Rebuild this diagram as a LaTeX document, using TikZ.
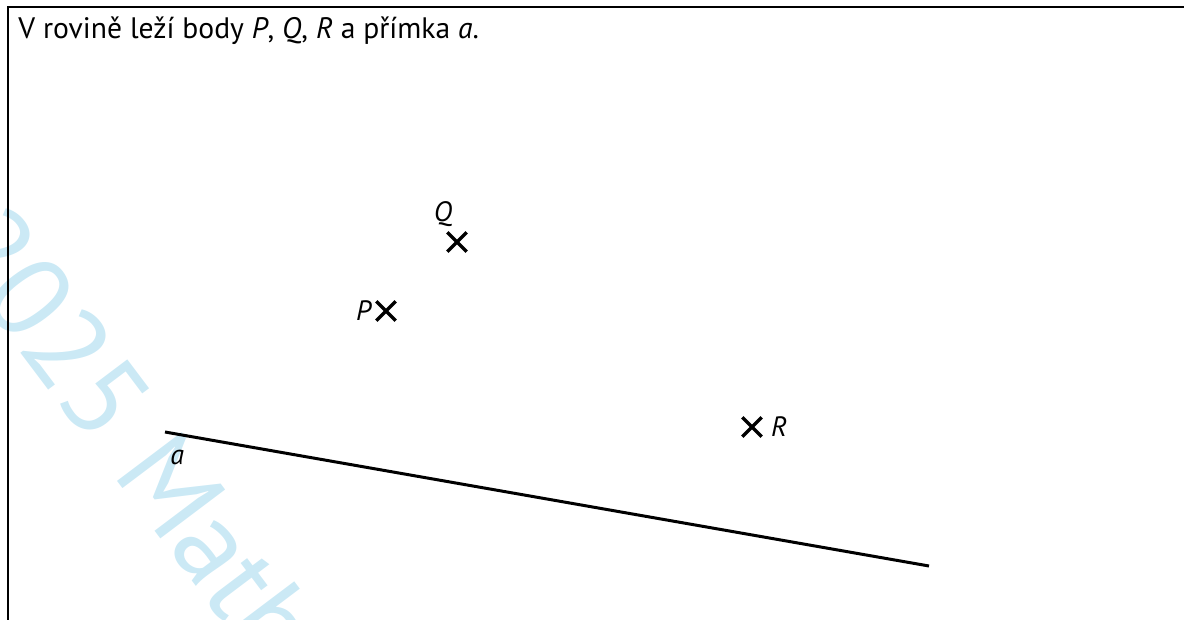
\documentclass[tikz,border=0pt]{standalone}
\usepackage{fontspec}
\setmainfont{PT Sans}
\usetikzlibrary{positioning, shapes.misc}
\definecolor{wmblue}{RGB}{203,233,245}

\begin{document}
\begin{tikzpicture}[x=0.5pt, y=-0.5pt,
  every node/.style={inner sep=0pt},
  lbl/.style={font=\fontsize{14}{16}\selectfont\itshape},
  txt/.style={font=\fontsize{14.8}{17}\selectfont},
  wmark/.style={font=\fontsize{58}{64}\selectfont, color=wmblue},
  bod/.style={cross out, draw, minimum size=8pt, line width=1.7pt},
  frame/.style={line width=1pt},
  primka/.style={line width=1.5pt}]
\clip (0,0) rectangle (1184,620);
\node[wmark, rotate=-53, anchor=base west] (wm) at (-60,246) {2025 Math};
\draw[frame] (8,640) -- (8,7) -- (1200,7);
\node[txt, anchor=base west] (zadani) at (18,39)
  {V rovině leží body \textit{P}, \textit{Q}, \textit{R} a přímka \textit{a}.};
% body
\node[bod] (P) at (386,311) {};
\node[bod] (Q) at (457,242) {};
\node[bod] (R) at (752,427) {};
\node[lbl, left=2.5pt of P] (Plbl) {P};
\node[lbl, above=2.5pt of Q, xshift=-7pt] (Qlbl) {Q};
\node[lbl, right=4.5pt of R] (Rlbl) {R};
% primka a
\coordinate (a1) at (165,432);
\coordinate (a2) at (929,566);
\draw[primka] (a1) -- (a2);
\node[lbl, below right=9pt and 2.5pt of a1] (albl) {a};
\end{tikzpicture}
\end{document}
